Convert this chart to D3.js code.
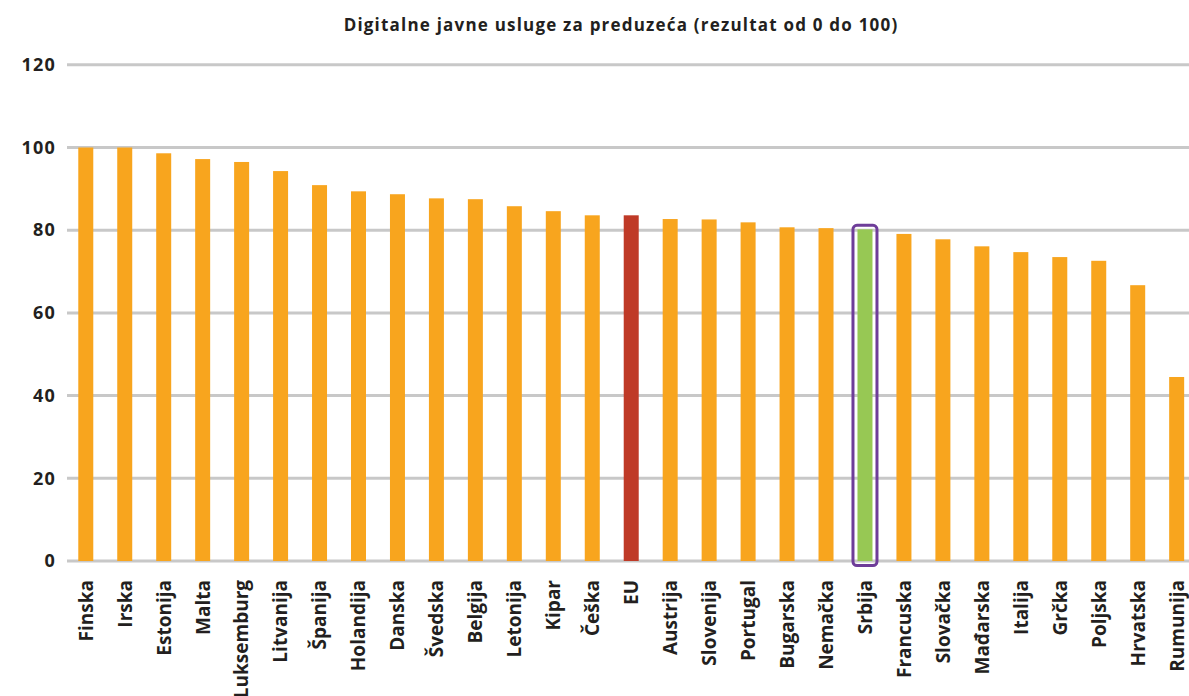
<!DOCTYPE html>
<html>
<head>
<meta charset="utf-8">
<script src="https://cdn.jsdelivr.net/npm/d3@7"></script>
<style>
  html, body { margin: 0; padding: 0; background: #fff; }
  svg { display: block; }
  text { font-family: "Open Sans", Lato, sans-serif; font-weight: 700; fill: #231f20; }
</style>
</head>
<body>
<svg id="chart" width="1189" height="696"></svg>
<script>
const countries = ["Finska","Irska","Estonija","Malta","Luksemburg","Litvanija","Španija","Holandija","Danska","Švedska","Belgija","Letonija","Kipar","Češka","EU","Austrija","Slovenija","Portugal","Bugarska","Nemačka","Srbija","Francuska","Slovačka","Mađarska","Italija","Grčka","Poljska","Hrvatska","Rumunija"];
const scores = [100,100,98.6,97.2,96.5,94.3,90.9,89.4,88.7,87.7,87.5,85.8,84.6,83.6,83.6,82.7,82.6,81.9,80.7,80.5,80.2,79.1,77.8,76.1,74.7,73.5,72.6,66.7,44.5];
const yTicks = [0,20,40,60,80,100,120];
const title = "Digitalne javne usluge za preduzeća (rezultat od 0 do 100)";

const colors = { base: "#f8a51e", eu: "#bf3a27", highlight: "#97c854", outline: "#6e3d99", grid: "#c8c8c8" };
const FONT = "'Open Sans', Lato, sans-serif";

const svg = d3.select("#chart");
const gridLeft = 67, gridRight = 1189;

const x = d3.scaleBand()
  .domain(countries)
  .range([66.3, 66.3 + 29 * 38.96])
  .paddingInner(0.615)
  .paddingOuter(0.3075);

const y = d3.scaleLinear().domain([0, 120]).range([561, 64.8]);

// title
svg.append("text")
  .attr("x", 621).attr("y", 31)
  .attr("text-anchor", "middle")
  .attr("font-size", 17)
  .attr("letter-spacing", 1.2)
  .text(title);

// horizontal gridlines
svg.append("g").selectAll("line")
  .data(yTicks)
  .join("line")
  .attr("x1", gridLeft).attr("x2", gridRight)
  .attr("y1", d => y(d)).attr("y2", d => y(d))
  .attr("stroke", colors.grid)
  .attr("stroke-width", 3);

// y axis labels
const yAxis = d3.axisLeft(y).tickValues(yTicks).tickSize(0).tickPadding(0);
const gy = svg.append("g").attr("transform", "translate(56,0)").call(yAxis);
gy.attr("font-family", FONT).attr("font-size", 18);
gy.select(".domain").remove();
gy.selectAll("text")
  .attr("font-size", 18)
  .attr("font-family", FONT)
  .attr("font-weight", 700)
  .attr("letter-spacing", 1.2)
  .attr("fill", "#231f20");

// bars
svg.append("g").selectAll("rect")
  .data(countries)
  .join("rect")
  .attr("x", d => x(d))
  .attr("width", x.bandwidth())
  .attr("y", (d, i) => y(scores[i]))
  .attr("height", (d, i) => y(0) - y(scores[i]))
  .attr("fill", d => d === "EU" ? colors.eu : d === "Srbija" ? colors.highlight : colors.base);

// outline around Serbia
const sx = x("Srbija");
const si = countries.indexOf("Srbija");
svg.append("rect")
  .attr("x", sx - 4.5)
  .attr("width", x.bandwidth() + 9)
  .attr("y", y(scores[si]) - 4)
  .attr("height", y(0) - y(scores[si]) + 8.5)
  .attr("rx", 4)
  .attr("fill", "none")
  .attr("stroke", colors.outline)
  .attr("stroke-width", 3);

// x axis labels, rotated
const xAxis = d3.axisBottom(x).tickSize(0).tickPadding(0);
const gx = svg.append("g").attr("transform", "translate(0,580)").call(xAxis);
gx.attr("font-family", FONT).attr("font-size", 19);
gx.select(".domain").remove();
gx.selectAll("text")
  .attr("font-size", 19)
  .attr("font-family", FONT)
  .attr("font-weight", 700)
  .attr("fill", "#231f20")
  .attr("text-anchor", "end")
  .attr("transform", "rotate(-90)")
  .attr("x", 0)
  .attr("y", 0)
  .attr("dy", "0.36em");
</script>
</body>
</html>
